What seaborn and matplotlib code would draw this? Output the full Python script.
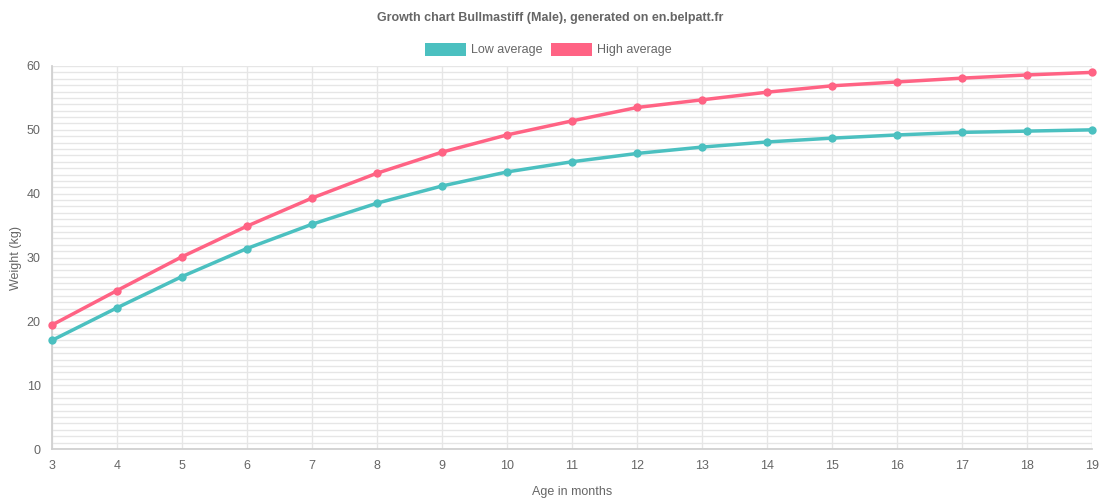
import matplotlib
matplotlib.use("Agg")
import matplotlib.pyplot as plt
import seaborn as sns
import pandas as pd
from matplotlib.patches import Patch
from matplotlib.ticker import MultipleLocator

months = [3, 4, 5, 6, 7, 8, 9, 10, 11, 12, 13, 14, 15, 16, 17, 18, 19]
low_avg = [17.0, 22.1, 27.0, 31.4, 35.2, 38.5, 41.2, 43.4, 45.0, 46.3, 47.3, 48.1, 48.7, 49.2, 49.6, 49.8, 50.0]
high_avg = [19.4, 24.8, 30.1, 34.9, 39.3, 43.2, 46.5, 49.2, 51.4, 53.5, 54.7, 55.9, 56.9, 57.5, 58.1, 58.6, 59.0]

low_color = "#4BC0C0"
high_color = "#FF6384"

df = pd.DataFrame({
    "month": months * 2,
    "weight": low_avg + high_avg,
    "series": ["Low average"] * len(months) + ["High average"] * len(months),
})

sns.set_theme(style="white")
plt.rcParams['font.family'] = ['Liberation Sans', 'DejaVu Sans']

fig = plt.figure(figsize=(11, 5), dpi=100)
ax = fig.add_axes([0.047, 0.102, 0.946, 0.766])

sns.lineplot(data=df, x="month", y="weight", hue="series",
             palette={"Low average": low_color, "High average": high_color},
             marker="o", markersize=6, markeredgewidth=0, linewidth=2.5,
             legend=False, ax=ax, zorder=3)
for ln in ax.lines:
    ln.set_clip_on(False)

ax.set_xlim(3, 19)
ax.set_ylim(0, 60)
ax.xaxis.set_major_locator(MultipleLocator(1))
ax.yaxis.set_major_locator(MultipleLocator(10))
ax.yaxis.set_minor_locator(MultipleLocator(1))
ax.grid(which="major", axis="both", color="#e6e6e6", linewidth=1)
ax.grid(which="minor", axis="y", color="#e6e6e6", linewidth=1)
for s in ["top", "right"]:
    ax.spines[s].set_visible(False)
ax.spines["left"].set_color("#cfcfcf")
ax.spines["bottom"].set_color("#cfcfcf")
ax.tick_params(axis="both", which="major", colors="#666666", labelsize=9,
               length=6, width=1, color="#e6e6e6", direction="out", pad=2)
ax.tick_params(axis="y", which="minor", length=6, width=1, color="#e6e6e6")
for lab in ax.get_xticklabels() + ax.get_yticklabels():
    lab.set_color("#666666")

ax.set_xlabel("Age in months", color="#666666", fontsize=9, labelpad=10)
ax.set_ylabel("Weight (kg)", color="#666666", fontsize=9, labelpad=8)
ax.yaxis.set_label_coords(-0.029, 0.5)

fig.text(0.5, 0.964, "Growth chart Bullmastiff (Male), generated on en.belpatt.fr",
         ha="center", va="center", fontsize=9, fontweight="bold", color="#666666")

handles = [Patch(facecolor=low_color, edgecolor="none", label="Low average"),
           Patch(facecolor=high_color, edgecolor="none", label="High average")]
leg = fig.legend(handles=handles, loc="center", bbox_to_anchor=(0.4985, 0.901), ncol=2,
                 frameon=False, fontsize=9, handlelength=3.3, handleheight=1.3,
                 handletextpad=0.4, columnspacing=0.7)
for t in leg.get_texts():
    t.set_color("#666666")

fig.savefig("out.png", dpi=100)
